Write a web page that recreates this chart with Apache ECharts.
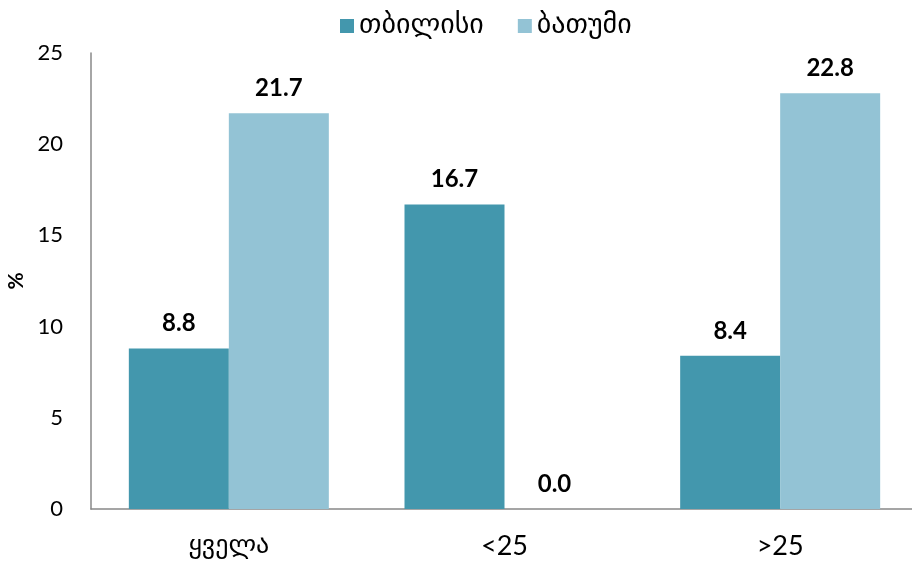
<!DOCTYPE html>
<html><head><meta charset="utf-8">
<script src="https://cdn.jsdelivr.net/npm/echarts@6/dist/echarts.min.js"></script>
<style>html,body{margin:0;padding:0;background:#fff}#c{width:912px;height:568px}</style>
</head><body><div id="c"></div>
<script>
const categories = ['ყველა', '<25', '>25'];
const seriesNames = ['თბილისი', 'ბათუმი'];
const tbilisi = [8.8, 16.7, 8.4];
const batumi = [21.7, 0.0, 22.8];
const yTicks = [0, 5, 10, 15, 20, 25];

const FONT = "Lato, 'DejaVu Sans', sans-serif";
const GEO = "'DejaVu Sans', sans-serif";
const chart = echarts.init(document.getElementById('c'));
const lbl = {show: true, position: 'top', distance: 13, fontFamily: FONT, fontWeight: 'bold', fontSize: 24, color: '#000', formatter: p => p.value.toFixed(1)};
chart.setOption({
  animation: false,
  textStyle: {fontFamily: FONT},
  legend: {
    top: 7, left: 335, itemWidth: 14, itemHeight: 14, itemGap: 34,
    icon: 'rect',
    textStyle: {fontFamily: GEO, fontSize: 28, color: '#000'},
    data: seriesNames
  },
  grid: {left: 91, width: 827, top: 53, bottom: 59, outerBoundsMode: 'none', containLabel: false},
  xAxis: {
    type: 'category',
    data: categories.map(c => /[\u10A0-\u10FF]/.test(c)
      ? {value: c, textStyle: {fontFamily: GEO, fontSize: 26}}
      : {value: c, textStyle: {fontFamily: FONT, fontSize: 27}}),
    axisLine: {lineStyle: {color: '#888', width: 1.5}},
    axisTick: {show: false},
    axisLabel: {color: '#000', margin: 24, fontSize: 27, fontFamily: FONT}
  },
  yAxis: {
    type: 'value', min: yTicks[0], max: yTicks[yTicks.length - 1], interval: 5,
    name: '%', nameLocation: 'middle', nameGap: 64, nameRotate: 90,
    nameTextStyle: {fontFamily: FONT, fontWeight: 'bold', fontSize: 21, color: '#000'},
    axisLine: {show: true, lineStyle: {color: '#888', width: 1.5}},
    axisTick: {show: false},
    splitLine: {show: false},
    axisLabel: {fontFamily: FONT, fontSize: 22, color: '#000', margin: 28}
  },
  series: [
    {name: seriesNames[0], type: 'bar', data: tbilisi, barWidth: 100, barGap: '0%', itemStyle: {color: '#4397ad'}, label: lbl},
    {name: seriesNames[1], type: 'bar', data: batumi, barWidth: 100, barGap: '0%', itemStyle: {color: '#93c3d5'}, label: lbl}
  ]
});
</script></body></html>
